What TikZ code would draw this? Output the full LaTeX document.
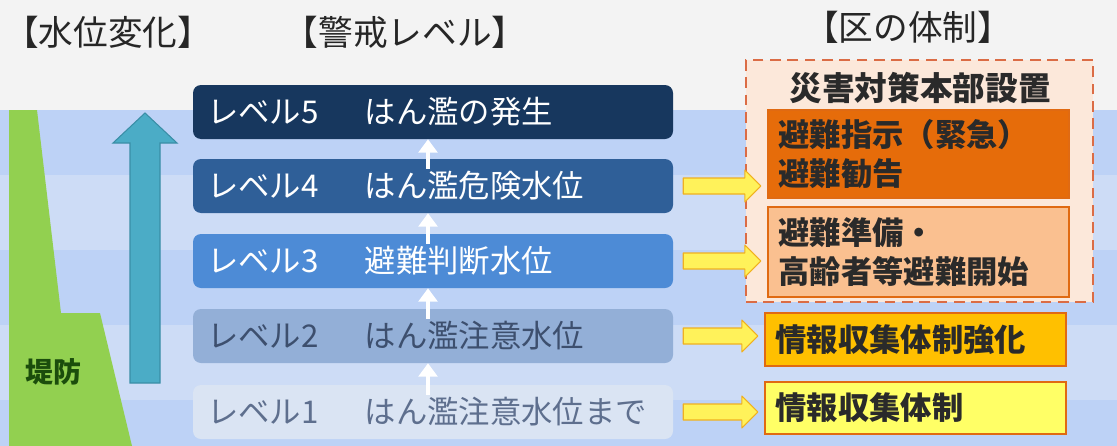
\documentclass[tikz,border=0pt]{standalone}
\usepackage{fontspec}
\setmainfont{Noto Sans CJK JP}
\usetikzlibrary{arrows.meta,calc}
\definecolor{topbg}{HTML}{F3F3F3}
\definecolor{waterA}{HTML}{BDD2F6}
\definecolor{waterB}{HTML}{CDDCF6}
\definecolor{dike}{HTML}{92D050}
\definecolor{dikeText}{HTML}{1B4D0C}
\definecolor{riseFill}{HTML}{4BACC6}
\definecolor{riseLine}{HTML}{3A8EA6}
\definecolor{lvFive}{HTML}{17375E}
\definecolor{lvFour}{HTML}{2F5F98}
\definecolor{lvThree}{HTML}{4D8BD6}
\definecolor{lvTwo}{HTML}{93AFD7}
\definecolor{lvOne}{HTML}{DAE4F3}
\definecolor{lvTwoText}{HTML}{3D4F6E}
\definecolor{lvOneText}{HTML}{5E6F8E}
\definecolor{dashLine}{HTML}{DB6C45}
\definecolor{dashFill}{HTML}{FCE8DA}
\definecolor{orgFill}{HTML}{E66C0A}
\definecolor{orgLine}{HTML}{E06A12}
\definecolor{peachFill}{HTML}{FAC090}
\definecolor{goldFill}{HTML}{FFC000}
\definecolor{lemonFill}{HTML}{FFFF66}
\definecolor{boxText}{HTML}{2A2A2A}
\definecolor{yArrowFill}{HTML}{FFF25A}
\definecolor{yArrowLine}{HTML}{F0B020}
\newcommand{\YelArrow}[2]{%
  \path ($(#1.east)+(10,0)$) coordinate (ya);
  \path (ya -| #2.west) coordinate (yb);
  \filldraw[yarrowshape] ($(ya)+(0,-8)$) -- ($(yb)+(-22,-8)$) -- ($(yb)+(-22,-16)$)
    -- ($(yb)+(-6,0)$) -- ($(yb)+(-22,16)$) -- ($(yb)+(-22,8)$) -- ($(ya)+(0,8)$) -- cycle;}
\begin{document}
\begin{tikzpicture}[x=0.75pt,y=-0.75pt,
  heading/.style={font=\fontsize{26}{28}\selectfont, text=black!85, inner sep=0pt},
  lvl/.style={rounded corners=6pt, minimum width=360pt, minimum height=40.5pt,
    text width=339pt, align=left, inner xsep=10.5pt, inner ysep=0pt,
    font=\fontsize{23.5}{25}\selectfont},
  rbox/.style={draw=orgLine, line width=1.5pt, text width=210pt, align=left,
    inner xsep=8pt, inner ysep=0pt, text=boxText,
    font=\bfseries\fontsize{23.5}{29}\selectfont},
  upwhite/.style={draw=white, line width=3.2pt, -{Triangle[width=14pt,length=10pt]}},
  yarrowshape/.style={fill=yArrowFill, draw=yArrowLine, line width=0.8pt, line join=round}]
\useasboundingbox (0,0) rectangle (1117,446);
% background
\fill[topbg] (0,0) rectangle (1117,110);
\fill[waterA] (0,110) rectangle (1117,175);
\fill[waterB] (0,175) rectangle (1117,250);
\fill[waterA] (0,250) rectangle (1117,325);
\fill[waterB] (0,325) rectangle (1117,400);
\fill[waterA] (0,400) rectangle (1117,446);
% embankment
\fill[dike] (9,110) -- (37,110) -- (61,313) -- (100,313) -- (132,446) -- (9,446) -- cycle;
\node[font=\bfseries\fontsize{21}{22}\selectfont, text=dikeText] (dikelabel) at (53,372) {堤防};
% rising water arrow
\filldraw[fill=riseFill, draw=riseLine, line width=0.8pt]
  (130,383) -- (130,143) -- (113,143) -- (145,113) -- (177,143) -- (160,143) -- (160,383) -- cycle;
% headings
\node[heading] (h1) at (108,32) {【水位変化】};
\node[heading] (h2) at (405,32) {【警戒レベル】};
\node[heading] (h3) at (908,27) {【区の体制】};
% level boxes
\node[lvl, fill=lvFive, text=white] (L5) at (433,112) {\makebox[118.5pt][l]{レベル5}はん濫の発生};
\node[lvl, fill=lvFour, text=white] (L4) at (433,186) {\makebox[118.5pt][l]{レベル4}はん濫危険水位};
\node[lvl, fill=lvThree, text=white] (L3) at (433,261) {\makebox[118.5pt][l]{レベル3}避難判断水位};
\node[lvl, fill=lvTwo, text=lvTwoText] (L2) at (433,336) {\makebox[118.5pt][l]{レベル2}はん濫注意水位};
\node[lvl, fill=lvOne, text=lvOneText] (L1) at (433,412) {\makebox[118.5pt][l]{レベル1}はん濫注意水位まで};
% white arrows between levels
\draw[upwhite] ($(L1.north)+(-5,10)$) -- ($(L2.south)+(-5,0)$);
\draw[upwhite] ($(L2.north)+(-5,10)$) -- ($(L3.south)+(-5,0)$);
\draw[upwhite] ($(L3.north)+(-5,10)$) -- ($(L4.south)+(-5,0)$);
\draw[upwhite] ($(L4.north)+(-5,10)$) -- ($(L5.south)+(-5,0)$);
% district system
\node[draw=dashLine, fill=dashFill, dash pattern=on 8pt off 5pt, line width=2pt,
  minimum width=260.25pt, minimum height=181.5pt] (HQ) at (919.5,181) {};
\node[font=\bfseries\fontsize{24.5}{26}\selectfont, text=boxText, inner sep=0pt] (HQtitle) at (920,88) {災害対策本部設置};
\node[rbox, fill=orgFill, minimum height=66pt] (R4) at (918.5,154) {避難指示（緊急）\\避難勧告};
\node[rbox, fill=peachFill, minimum height=67.5pt] (R3) at (918.5,252) {避難準備・\\高齢者等避難開始};
\node[rbox, fill=goldFill, minimum height=39.75pt] (R2) at (915.5,339.5) {情報収集体制強化};
\node[rbox, fill=lemonFill, minimum height=39pt] (R1) at (915.5,408) {情報収集体制};
% yellow arrows
\YelArrow{L4}{R4}
\YelArrow{L3}{R3}
\YelArrow{L2}{R2}
\YelArrow{L1}{R1}
\end{tikzpicture}
\end{document}
